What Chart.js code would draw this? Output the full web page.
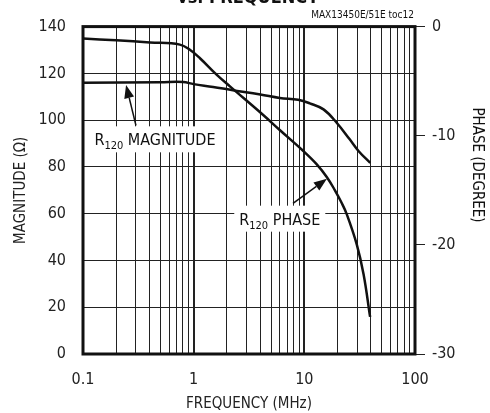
<!DOCTYPE html>
<html>
<head>
<meta charset="utf-8">
<script src="https://cdn.jsdelivr.net/npm/chart.js@4/dist/chart.umd.min.js"></script>
<style>
  html, body { margin: 0; padding: 0; background: #fff; }
  #wrap { width: 490px; height: 413px; }
</style>
</head>
<body>
<div id="wrap"><canvas id="c" width="490" height="413"></canvas></div>
<script>
const FONT = "'Liberation Sans Narrow', 'DejaVu Sans Condensed', 'Liberation Sans', sans-serif";

// frequency (MHz) / magnitude (ohm)
const magFreq = [0.1, 0.5, 0.8, 1.0, 1.5, 2.2, 4.0, 6.0, 8.8, 11.2, 14.9, 19.6, 25.6, 31, 39.4];
const magValues = [116.0, 116.2, 116.3, 115.4, 114.2, 112.9, 111.0, 109.5, 108.7, 107.2, 104.6, 98.9, 91.9, 86.7, 81.7];

// frequency (MHz) / phase (degree)
const phaseFreq = [0.1, 0.2, 0.403, 0.75, 0.93, 1.14, 1.61, 2.14, 4.25, 6.03, 9.8, 12.9, 16, 18.9, 21.6, 24.2, 29.8, 34.3, 39.3];
const phaseValues = [-1.1, -1.25, -1.45, -1.65, -2.15, -2.9, -4.4, -5.5, -8.1, -9.5, -11.4, -12.6, -13.8, -15.0, -16.1, -17.2, -19.97, -22.7, -26.6];

const freqGrid = [0.1, 0.2, 0.3, 0.4, 0.5, 0.6, 0.7, 0.8, 0.9,
  1, 2, 3, 4, 5, 6, 7, 8, 9, 10, 20, 30, 40, 50, 60, 70, 80, 90, 100];
const freqLabels = [0.1, 1, 10, 100];

// callouts: label centre and arrow (tail -> tip), in data units
const callouts = [
  { name: 'MAGNITUDE', axis: 'y', x: 0.447, y: 91.8, from: [0.301, 97.7], to: [0.245, 115.0] },
  { name: 'PHASE', axis: 'y2', x: 6.0, y: -17.6, from: [7.9, -16.2], to: [16.0, -13.95] }
];

function pts(xs, ys) {
  return xs.map((x, i) => ({ x: x, y: ys[i] }));
}

const decorPlugin = {
  id: 'decor',
  afterDraw(chart) {
    const ctx = chart.ctx;
    const a = chart.chartArea;
    const sx = chart.scales.x;

    ctx.save();
    // frame
    ctx.strokeStyle = '#111';
    ctx.lineWidth = 3;
    ctx.strokeRect(a.left, a.top, a.right - a.left, a.bottom - a.top);

    // title cut off at the top
    ctx.fillStyle = '#111';
    ctx.font = 'bold 18px ' + FONT;
    ctx.textAlign = 'center';
    ctx.textBaseline = 'alphabetic';
    ctx.fillText('vs. FREQUENCY', 248, 3);

    // note
    ctx.font = '10px ' + FONT;
    ctx.textAlign = 'right';
    ctx.fillText('MAX13450E/51E toc12', a.right - 1, 18);

    // right axis title
    ctx.save();
    ctx.translate(477, 165);
    ctx.rotate(Math.PI / 2);
    ctx.font = '15px ' + FONT;
    ctx.textAlign = 'center';
    ctx.textBaseline = 'middle';
    ctx.fillText('PHASE (DEGREE)', 0, 0);
    ctx.restore();

    // callouts
    for (const c of callouts) {
      const sy = chart.scales[c.axis];
      const cx = sx.getPixelForValue(c.x);
      const cy = sy.getPixelForValue(c.y);
      ctx.textBaseline = 'alphabetic';
      ctx.textAlign = 'left';
      ctx.font = '16px ' + FONT;
      const wR = ctx.measureText('R').width;
      const wN = ctx.measureText(' ' + c.name).width;
      ctx.font = '11px ' + FONT;
      const wS = ctx.measureText('120').width;
      const w = wR + wS + wN;
      ctx.fillStyle = '#fff';
      ctx.fillRect(cx - w / 2 - 5, cy - 13, w + 10, 26);
      ctx.fillStyle = '#111';
      const x0 = cx - w / 2;
      const base = cy + 6;
      ctx.font = '16px ' + FONT;
      ctx.fillText('R', x0, base);
      ctx.font = '11px ' + FONT;
      ctx.fillText('120', x0 + wR, base + 4);
      ctx.font = '16px ' + FONT;
      ctx.fillText(' ' + c.name, x0 + wR + wS, base);

      // arrow
      const x1 = sx.getPixelForValue(c.from[0]);
      const y1 = sy.getPixelForValue(c.from[1]);
      const x2 = sx.getPixelForValue(c.to[0]);
      const y2 = sy.getPixelForValue(c.to[1]);
      const ang = Math.atan2(y2 - y1, x2 - x1);
      const hl = 13, hw = 5;
      const bx = x2 - hl * Math.cos(ang), by = y2 - hl * Math.sin(ang);
      ctx.strokeStyle = '#111';
      ctx.lineWidth = 1.5;
      ctx.beginPath();
      ctx.moveTo(x1, y1);
      ctx.lineTo(bx, by);
      ctx.stroke();
      ctx.beginPath();
      ctx.moveTo(x2, y2);
      ctx.lineTo(bx + hw * Math.sin(ang), by - hw * Math.cos(ang));
      ctx.lineTo(bx - hw * Math.sin(ang), by + hw * Math.cos(ang));
      ctx.closePath();
      ctx.fill();
    }
    ctx.restore();
  }
};

new Chart(document.getElementById('c'), {
  type: 'line',
  data: {
    datasets: [
      {
        data: pts(magFreq, magValues),
        yAxisID: 'y',
        borderColor: '#111',
        borderWidth: 2.5,
        pointRadius: 0,
        tension: 0.4,
        fill: false
      },
      {
        data: pts(phaseFreq, phaseValues),
        yAxisID: 'y2',
        borderColor: '#111',
        borderWidth: 2.5,
        pointRadius: 0,
        tension: 0.4,
        fill: false
      }
    ]
  },
  options: {
    responsive: false,
    animation: false,
    layout: { padding: { top: 23, left: 0, right: 0, bottom: 0 } },
    plugins: { legend: { display: false }, tooltip: { enabled: false } },
    scales: {
      x: {
        type: 'logarithmic',
        min: 0.1,
        max: 100,
        afterBuildTicks(axis) {
          axis.ticks = freqGrid.map((v) => ({ value: v }));
        },
        afterFit(axis) { axis.height = 59; },
        grid: {
          color: '#222',
          lineWidth: (c) => (c.tick && (c.tick.value === 1 || c.tick.value === 10) ? 2 : 1),
          drawTicks: false
        },
        border: { display: false },
        ticks: {
          autoSkip: false,
          maxRotation: 0,
          padding: 16,
          color: '#222',
          font: { family: FONT, size: 16 },
          callback: (v) => (freqLabels.includes(v) ? String(v) : '')
        },
        title: {
          display: true,
          text: 'FREQUENCY (MHz)',
          color: '#222',
          font: { family: FONT, size: 15 },
          padding: { top: 3, bottom: 0 }
        }
      },
      y: {
        position: 'left',
        min: 0,
        max: 140,
        afterFit(axis) { axis.width = 83; },
        grid: { color: '#222', lineWidth: 1, drawTicks: false },
        border: { display: false },
        ticks: {
          stepSize: 20,
          padding: 17,
          color: '#222',
          font: { family: FONT, size: 16 }
        },
        title: {
          display: true,
          text: 'MAGNITUDE (Ω)',
          color: '#222',
          font: { family: FONT, size: 15 },
          padding: { top: 12, bottom: 0 }
        }
      },
      y2: {
        position: 'right',
        min: -30,
        max: 0,
        afterFit(axis) { axis.width = 75; },
        grid: { drawOnChartArea: false, color: '#222', lineWidth: 1, tickLength: 10 },
        border: { display: false },
        ticks: {
          stepSize: 10,
          padding: 7,
          color: '#222',
          font: { family: FONT, size: 16 }
        }
      }
    }
  },
  plugins: [decorPlugin]
});
</script>
</body>
</html>
